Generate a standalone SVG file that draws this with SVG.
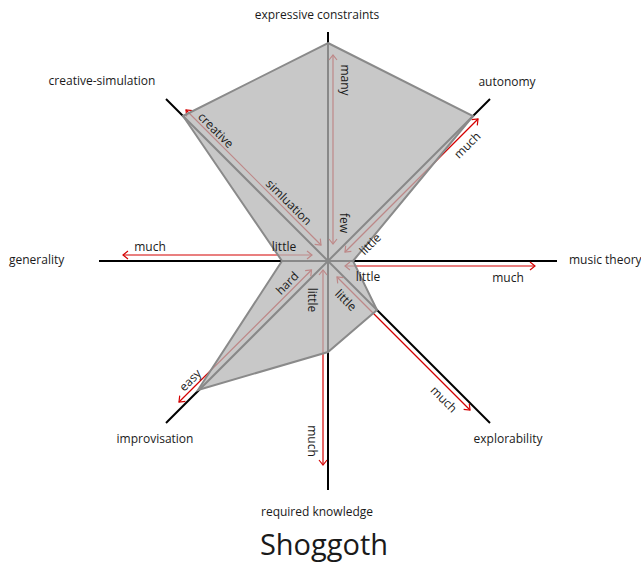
<svg xmlns="http://www.w3.org/2000/svg" width="641" height="564" viewBox="0 0 641 564">
<style>
.axis{stroke:#000;stroke-width:2;fill:none}
.arr{stroke:#d40000;stroke-width:1.2;fill:none;marker-start:url(#ah);marker-end:url(#ah)}
.poly{fill:#b5b5b5;fill-opacity:0.75;stroke:#8a8a8a;stroke-width:2;stroke-linejoin:miter}
text{font-family:"Open Sans","Noto Sans","DejaVu Sans",sans-serif;font-size:12px;fill:#1a1a1a}
.lab{text-anchor:middle;dominant-baseline:central}
.ax{text-anchor:middle}
.title{font-size:29px;text-anchor:middle}
</style>
<defs>
<marker id="ah" markerUnits="userSpaceOnUse" markerWidth="12" markerHeight="12" viewBox="-6 -6 12 12" refX="0" refY="0" orient="auto-start-reverse">
<path d="M-5,-4 L0,0 L-5,4" fill="none" stroke="#d40000" stroke-width="1.2"/>
</marker>
</defs>
<g id="axes">
<line class="axis" x1="328" y1="261" x2="328" y2="32"/>
<line class="axis" x1="328" y1="261" x2="490" y2="99"/>
<line class="axis" x1="328" y1="261" x2="557" y2="261"/>
<line class="axis" x1="328" y1="261" x2="490" y2="423"/>
<line class="axis" x1="328" y1="261" x2="328" y2="490"/>
<line class="axis" x1="328" y1="261" x2="166" y2="423"/>
<line class="axis" x1="328" y1="261" x2="99" y2="261"/>
<line class="axis" x1="328" y1="261" x2="166" y2="99"/>
</g>
<g id="connectors">
<line class="arr" x1="333" y1="244" x2="333" y2="55"/>
<line class="arr" x1="345" y1="252" x2="478" y2="119"/>
<line class="arr" x1="345" y1="266" x2="535" y2="266"/>
<line class="arr" x1="337" y1="277" x2="470" y2="410"/>
<line class="arr" x1="323" y1="270" x2="323" y2="465"/>
<line class="arr" x1="311.5" y1="270" x2="179" y2="402"/>
<line class="arr" x1="312" y1="255" x2="123" y2="255"/>
<line class="arr" x1="321" y1="245" x2="186" y2="110"/>
</g>
<g id="profile">
<polygon class="poly" points="328,43 473,116 353,261 377,310 328,352 198,390 282,261 183,116"/>
</g>
<g id="axis-labels">
<text class="ax" x="317" y="19">expressive constraints</text>
<text class="ax" x="102" y="85">creative-simulation</text>
<text class="ax" x="507" y="86">autonomy</text>
<text x="9" y="264">generality</text>
<text x="569" y="264">music theory</text>
<text class="ax" x="155" y="443">improvisation</text>
<text class="ax" x="508" y="443">explorability</text>
<text class="ax" x="317" y="516">required knowledge</text>
</g>
<g id="value-labels">
<text class="lab" transform="translate(345,80) rotate(90)">many</text>
<text class="lab" transform="translate(344,223) rotate(90)">few</text>
<text class="lab" transform="translate(467,145) rotate(-45)">much</text>
<text class="lab" transform="translate(370,244) rotate(-45)">little</text>
<text class="lab" x="368" y="276">little</text>
<text class="lab" x="508" y="277">much</text>
<text class="lab" transform="translate(346,300) rotate(45)">little</text>
<text class="lab" transform="translate(444,399) rotate(45)">much</text>
<text class="lab" transform="translate(312,300) rotate(90)">little</text>
<text class="lab" transform="translate(312,441) rotate(90)">much</text>
<text class="lab" transform="translate(287,283) rotate(-45)">hard</text>
<text class="lab" transform="translate(190,380) rotate(-45)">easy</text>
<text class="lab" x="150" y="246">much</text>
<text class="lab" x="284" y="246">little</text>
<text class="lab" transform="translate(216,130) rotate(45)">creative</text>
<text class="lab" transform="translate(289,202) rotate(45)">simluation</text>
</g>
<g id="title">
<text class="title" x="324" y="555">Shoggoth</text>
</g>
</svg>
